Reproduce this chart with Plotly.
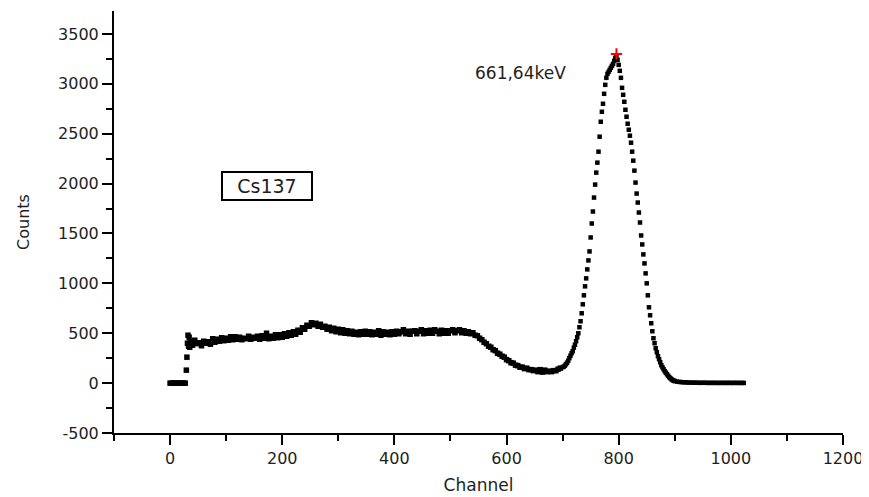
import plotly.graph_objects as go

# ---- data (channel, counts) ----
ch_low = [0, 3, 6, 9, 12, 15, 18, 21, 24, 27, 29, 30, 31, 32, 33, 34, 35]
cnt_low = [0, 0, 0, 0, 0, 0, 0, 0, 0, 0, 130, 260, 400, 480, 370, 460, 360]

ch_cont = list(range(36, 697, 4))
cnt_cont = [
    410, 380, 430, 395, 405, 375, 420, 400, 415, 390,
    445, 410, 440, 420, 455, 425, 450, 430, 465, 435,
    465, 440, 460, 435, 450, 445, 470, 440, 460, 450,
    470, 440, 475, 450, 500, 445, 470, 450, 485, 455,
    485, 460, 495, 470, 505, 480, 515, 490, 530, 510,
    555, 540, 580, 570, 605, 585, 600, 570, 590, 560,
    570, 540, 560, 525, 550, 515, 540, 505, 535, 500,
    525, 495, 520, 490, 510, 485, 515, 490, 520, 490,
    515, 485, 510, 490, 525, 480, 515, 490, 510, 485,
    515, 490, 520, 495, 515, 535, 495, 520, 490, 520,
    525, 495, 520, 535, 495, 525, 500, 530, 500, 535,
    520, 495, 530, 500, 525, 500, 525, 535, 505, 525,
    535, 505, 525, 500, 515, 495, 505, 480, 475, 450,
    435, 410, 395, 370, 360, 335, 325, 300, 290, 270,
    260, 235, 225, 205, 200, 180, 175, 160, 160, 145,
    150, 135, 135, 125, 130, 115, 135, 110, 130, 115,
    120, 115, 125, 125, 140, 150,
]

ch_peak = list(range(700, 901, 2))
cnt_peak = [
    160, 165, 175, 190, 205, 225, 250, 275, 300, 320,
    355, 385, 420, 460, 500, 560, 620, 700, 790, 880,
    970, 1050, 1140, 1230, 1320, 1460, 1600, 1720, 1860, 1990,
    2110, 2210, 2320, 2470, 2620, 2720, 2800, 2900, 2990, 3060,
    3100, 3120, 3140, 3160, 3180, 3200, 3230, 3260, 3280, 3240,
    3190, 3130, 3060, 2960, 2890, 2820, 2740, 2670, 2600, 2540,
    2480, 2410, 2320, 2230, 2130, 2010, 1900, 1810, 1710, 1610,
    1480, 1390, 1290, 1200, 1100, 1000, 880, 760, 680, 600,
    520, 450, 400, 350, 310, 270, 240, 210, 180, 160,
    140, 120, 105, 90, 75, 60, 50, 40, 30, 25,
    20,
]

ch_tail = list(range(904, 1021, 4)) + [1023]
cnt_tail = [
    15, 12, 10, 8, 8, 6, 5, 5, 4, 4,
    3, 3, 4, 3, 2, 3, 2, 3, 2, 2,
    3, 2, 2, 3, 2, 2, 3, 2, 2, 2,
    2,
]

peak_ch = [796]
peak_cnt = [3300]

x_ticks = [0, 200, 400, 600, 800, 1000, 1200]
y_ticks = [-500, 0, 500, 1000, 1500, 2000, 2500, 3000, 3500]
y_ticklabels = ["-500", "0", "500", "1000", "1500", "2000", "2500", "3000", "3500"]

FONT = "DejaVu Sans"
TXT = "#1e1e1e"

fig = go.Figure()
# low-channel cut-off and continuum: dense band of points
fig.add_trace(go.Scatter(
    x=ch_low + ch_cont, y=cnt_low + cnt_cont, mode="markers",
    marker=dict(symbol="square", size=5.5, color="black", line=dict(width=0)),
    showlegend=False,
))
# photopeak and tail
fig.add_trace(go.Scatter(
    x=ch_peak + ch_tail, y=cnt_peak + cnt_tail, mode="markers",
    marker=dict(symbol="square", size=4.5, color="black", line=dict(width=0)),
    showlegend=False,
))
fig.add_trace(go.Scatter(
    x=peak_ch, y=peak_cnt, mode="markers",
    marker=dict(symbol="cross-thin", size=8, color="red", line=dict(width=2, color="red")),
    showlegend=False,
))

axis_common = dict(
    showline=True, linecolor="black", linewidth=2,
    ticks="outside", ticklen=10, tickwidth=2, tickcolor="black",
    showgrid=False, zeroline=False, mirror=False,
    tickfont=dict(family=FONT, size=16, color=TXT),
)

fig.update_xaxes(
    range=[-100, 1200], tickvals=x_ticks,
    minor=dict(dtick=100, tick0=0, ticklen=6, tickwidth=2, tickcolor="black", ticks="outside"),
    title=dict(text="Channel", font=dict(family=FONT, size=17, color=TXT), standoff=12),
    **axis_common,
)
fig.update_yaxes(
    range=[-500, 3730], tickvals=y_ticks, ticktext=y_ticklabels,
    minor=dict(dtick=250, tick0=0, ticklen=6, tickwidth=2, tickcolor="black", ticks="outside"),
    title=dict(text="Counts", font=dict(family=FONT, size=16, color=TXT), standoff=24),
    **axis_common,
)

fig.add_annotation(
    x=172, y=1980, xref="x", yref="y", text="Cs137", showarrow=False,
    font=dict(family=FONT, size=19, color=TXT),
    bordercolor="black", borderwidth=2, borderpad=1, bgcolor="white",
    width=86, height=24,
)
fig.add_annotation(
    x=624, y=3110, xref="x", yref="y", text="661,64keV", showarrow=False,
    font=dict(family=FONT, size=17, color=TXT),
)

# the page body adds an 8 px offset, so the figure is 8 px smaller and margins compensate
fig.update_layout(
    width=861, height=489,
    margin=dict(l=106, r=26, t=3, b=64, autoexpand=False),
    paper_bgcolor="white", plot_bgcolor="white",
)

fig.write_html("out.html")
